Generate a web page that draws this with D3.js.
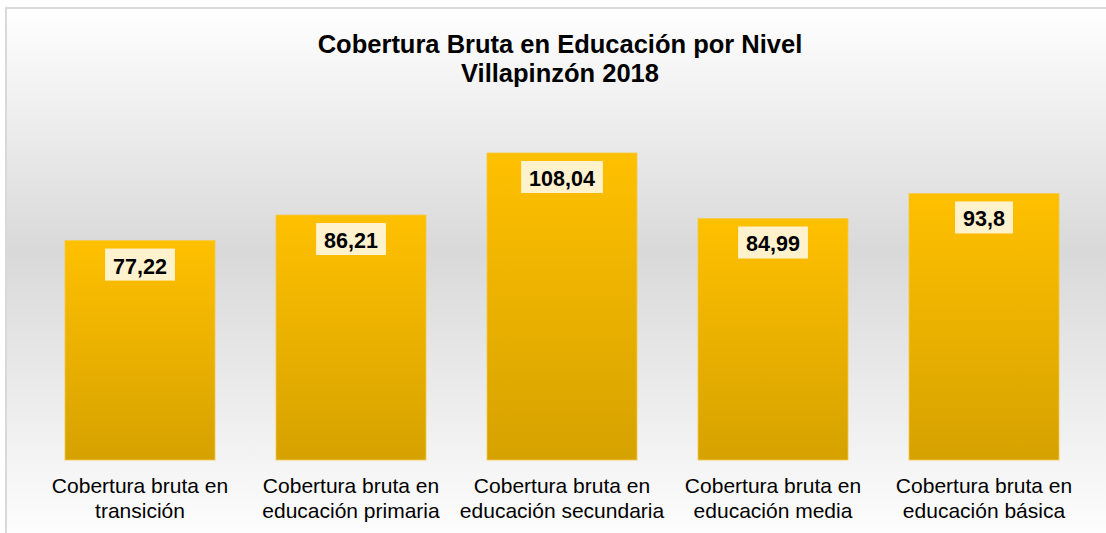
<!DOCTYPE html>
<html>
<head>
<meta charset="utf-8">
<script src="https://cdn.jsdelivr.net/npm/d3@7"></script>
<style>
  body { margin: 0; background: #fff; overflow: hidden; }
  text { font-family: Arial, "Liberation Sans", sans-serif; }
</style>
</head>
<body>
<div id="chart"></div>
<script>
const w = 1106;
const h = 533;

// data
const categories = [
    "Cobertura bruta en transición",
    "Cobertura bruta en educación primaria",
    "Cobertura bruta en educación secundaria",
    "Cobertura bruta en educación media",
    "Cobertura bruta en educación básica"
];
const labelLines = [
    ["Cobertura bruta en", "transición"],
    ["Cobertura bruta en", "educación primaria"],
    ["Cobertura bruta en", "educación secundaria"],
    ["Cobertura bruta en", "educación media"],
    ["Cobertura bruta en", "educación básica"]
];
const values = [77.22, 86.21, 108.04, 84.99, 93.8];
const valueLabels = ["77,22", "86,21", "108,04", "84,99", "93,8"];
const titleLines = ["Cobertura Bruta en Educación por Nivel", "Villapinzón 2018"];

const svg = d3.select("#chart")
    .append("svg")
        .attr("width", w)
        .attr("height", h);

const defs = svg.append("defs");

const bg = defs.append("linearGradient")
    .attr("id", "bg")
    .attr("x1", 0).attr("y1", 0).attr("x2", 0).attr("y2", 1);
bg.append("stop").attr("offset", "0%").attr("stop-color", "#ffffff");
bg.append("stop").attr("offset", "45%").attr("stop-color", "#d9d9d9");
bg.append("stop").attr("offset", "100%").attr("stop-color", "#ffffff");

const barGrad = defs.append("linearGradient")
    .attr("id", "barGrad")
    .attr("x1", 0).attr("y1", 0).attr("x2", 0).attr("y2", 1);
barGrad.append("stop").attr("offset", "0%").attr("stop-color", "#ffc000");
barGrad.append("stop").attr("offset", "100%").attr("stop-color", "#d6a200");

// chart area (extends past the window like the original)
svg.append("rect")
    .attr("x", 6)
    .attr("y", 8)
    .attr("width", 1130)
    .attr("height", 540)
    .attr("fill", "url(#bg)")
    .attr("stroke", "#d9d9d9")
    .attr("stroke-width", 2);

// title
svg.append("text")
    .attr("x", 560)
    .attr("y", 53)
    .attr("text-anchor", "middle")
    .style("font-size", "25.5px")
    .style("font-weight", "bold")
    .selectAll("tspan")
    .data(titleLines)
    .enter()
    .append("tspan")
        .attr("x", 560)
        .attr("dy", (d, i) => i === 0 ? 0 : 29)
        .text(d => d);

// scales
const x = d3.scaleBand()
    .domain(categories)
    .range([34.5, 1089.5])
    .paddingInner(0.289)
    .paddingOuter(0.1445);

const y = d3.scaleLinear()
    .domain([0, 120])
    .range([460, 119]);

const g = svg.append("g");

g.selectAll("rect.bar")
    .data(values)
    .enter()
    .append("rect")
        .attr("class", "bar")
        .attr("x", (d, i) => x(categories[i]))
        .attr("y", d => y(d))
        .attr("width", x.bandwidth())
        .attr("height", d => y(0) - y(d))
        .attr("fill", "url(#barGrad)")
        .attr("stroke", "#f5c94a")
        .attr("stroke-width", 0.8);

// value labels with cream boxes
const lab = g.selectAll("g.lab")
    .data(values)
    .enter()
    .append("g")
        .attr("class", "lab");

lab.append("text")
    .attr("x", (d, i) => x(categories[i]) + x.bandwidth() / 2)
    .attr("y", d => y(d) + 33)
    .attr("text-anchor", "middle")
    .style("font-size", "21.5px")
    .style("font-weight", "bold")
    .text((d, i) => valueLabels[i]);

lab.each(function() {
    const t = d3.select(this).select("text");
    const bb = t.node().getBBox();
    d3.select(this).insert("rect", "text")
        .attr("x", bb.x - 8)
        .attr("y", +t.attr("y") - 25)
        .attr("width", bb.width + 16)
        .attr("height", 32)
        .attr("fill", "#fff2cc");
});

// category labels
const axis = d3.axisBottom(x).tickSize(0).tickFormat("");
const ax = svg.append("g")
    .attr("transform", "translate(0,460)")
    .call(axis);
ax.select(".domain").remove();

ax.selectAll(".tick")
    .append("text")
    .attr("fill", "#000")
    .attr("text-anchor", "middle")
    .style("font-size", "21px")
    .style("font-family", "Arial, 'Liberation Sans', sans-serif")
    .selectAll("tspan")
    .data((d, i) => labelLines[categories.indexOf(d)])
    .enter()
    .append("tspan")
        .attr("x", 0)
        .attr("y", (d, i) => 33 + i * 25)
        .text(d => d);
</script>
</body>
</html>
